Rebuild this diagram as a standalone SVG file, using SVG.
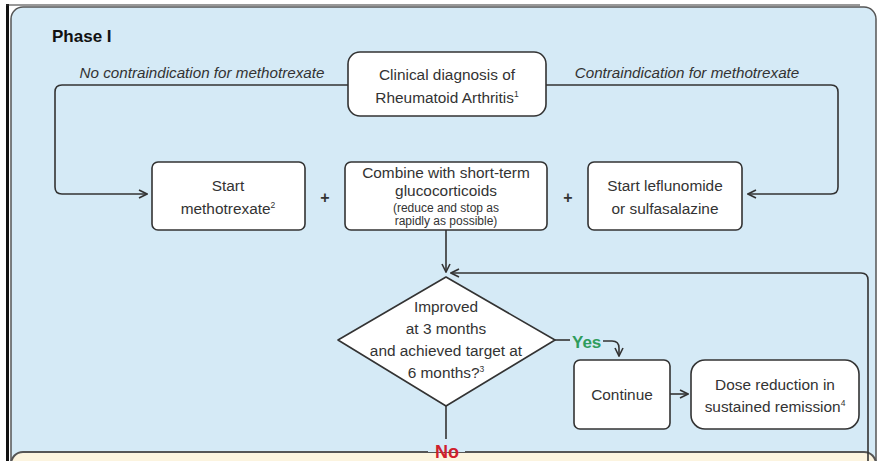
<svg xmlns="http://www.w3.org/2000/svg" width="879" height="461" viewBox="0 0 879 461">
<defs>
<style>
.box{fill:#fff;stroke:#333;stroke-width:1.6}
.t{font-family:"Liberation Sans",Arial,sans-serif;font-size:15.4px;fill:#333;text-anchor:middle}
.s{font-size:12px}
.lbl{font-family:"Liberation Sans",Arial,sans-serif;font-size:15.2px;font-style:italic;fill:#333;text-anchor:middle}
.c{fill:none;stroke:#333;stroke-width:1.6}
.plus{font-family:"Liberation Sans",Arial,sans-serif;font-size:16px;font-weight:bold;fill:#333;text-anchor:middle}
</style>
<marker id="ah" viewBox="0 0 10 10" refX="9" refY="5" markerWidth="10" markerHeight="10" markerUnits="userSpaceOnUse" orient="auto">
<path d="M1,1 L9,5 L1,9" fill="none" stroke="#333" stroke-width="1.6"/>
</marker>
</defs>
<rect x="0" y="0" width="879" height="461" fill="#fff"/>
<rect x="6" y="4" width="3" height="457" fill="#111"/>
<line x1="6" y1="5" x2="860" y2="5" stroke="#333" stroke-width="1"/>
<g id="phase1-panel">
<rect x="11" y="7" width="865" height="470" rx="12" fill="#d5eaf6" stroke="#555" stroke-width="1.5"/>
</g>
<g id="phase2-panel">
<rect x="11" y="452" width="865" height="40" rx="12" fill="#fcf4df" stroke="#555" stroke-width="2"/>
</g>
<text x="52" y="42" font-family="'Liberation Sans',Arial,sans-serif" font-size="17" font-weight="bold" fill="#111">Phase I</text>

<g id="connectors">
<path class="c" d="M348,85 L62,85 Q55,85 55,92 L55,187 Q55,194 62,194 L147,194" marker-end="url(#ah)"/>
<path class="c" d="M546,85 L831,85 Q838,85 838,92 L838,187 Q838,194 831,194 L748,194" marker-end="url(#ah)"/>
<path class="c" d="M446,230 L446,272" marker-end="url(#ah)"/>
<path class="c" d="M868,461 L868,280 Q868,273 861,273 L451,273" marker-end="url(#ah)"/>
<path class="c" d="M446,406 L446,439"/>
<path class="c" d="M555,340 L570,340"/>
<path class="c" d="M603,341 L612,341 Q619,341 619,348 L619,356" marker-end="url(#ah)"/>
<path class="c" d="M670,394 L688,394" marker-end="url(#ah)"/>
<rect x="428" y="444" width="37" height="8" fill="#d5eaf6"/>
<rect x="428" y="453" width="37" height="8" fill="#fcf4df"/>
<text x="572" y="348" font-family="'Liberation Sans',Arial,sans-serif" font-size="17" font-weight="bold" fill="#2e9c5c">Yes</text>
<text x="447" y="458" font-family="'Liberation Sans',Arial,sans-serif" font-size="18" font-weight="bold" fill="#d0202c" text-anchor="middle">No</text>
<text class="lbl" x="202" y="78">No contraindication for methotrexate</text>
<text class="lbl" x="687" y="78">Contraindication for methotrexate</text>
</g>

<g id="diagnosis">
<rect class="box" x="348" y="52" width="198" height="64" rx="12"/>
<text class="t" x="447" y="80">Clinical diagnosis of</text>
<text class="t" x="447" y="103">Rheumatoid Arthritis<tspan font-size="8.5" dy="-6">1</tspan></text>
</g>

<g id="methotrexate">
<rect class="box" x="152" y="162" width="153" height="68" rx="6"/>
<text class="t" x="228" y="191">Start</text>
<text class="t" x="228" y="214">methotrexate<tspan font-size="8.5" dy="-6">2</tspan></text>
</g>
<text class="plus" x="325" y="203">+</text>

<g id="glucocorticoids">
<rect class="box" x="345" y="162" width="202" height="68" rx="6"/>
<text class="t" x="446" y="178">Combine with short-term</text>
<text class="t" x="446" y="196">glucocorticoids</text>
<text class="t s" x="446" y="212">(reduce and stop as</text>
<text class="t s" x="446" y="225">rapidly as possible)</text>
</g>
<text class="plus" x="568" y="203">+</text>

<g id="leflunomide">
<rect class="box" x="588" y="162" width="154" height="68" rx="6"/>
<text class="t" x="665" y="191">Start leflunomide</text>
<text class="t" x="665" y="214">or sulfasalazine</text>
</g>

<g id="decision">
<path class="box" d="M446,277 L555,340 L446,406 L338,340 Z" stroke-linejoin="round"/>
<text class="t" x="446" y="312">Improved</text>
<text class="t" x="446" y="334">at 3 months</text>
<text class="t" x="446" y="356">and achieved target at</text>
<text class="t" x="446" y="378">6 months?<tspan font-size="8.5" dy="-6">3</tspan></text>
</g>

<g id="continue">
<rect class="box" x="574" y="360" width="96" height="69" rx="6"/>
<text class="t" x="622" y="400">Continue</text>
</g>

<g id="dose-reduction">
<rect class="box" x="691" y="360" width="168" height="69" rx="14"/>
<text class="t" x="775" y="390">Dose reduction in</text>
<text class="t" x="775" y="412">sustained remission<tspan font-size="8.5" dy="-6">4</tspan></text>
</g>
</svg>
